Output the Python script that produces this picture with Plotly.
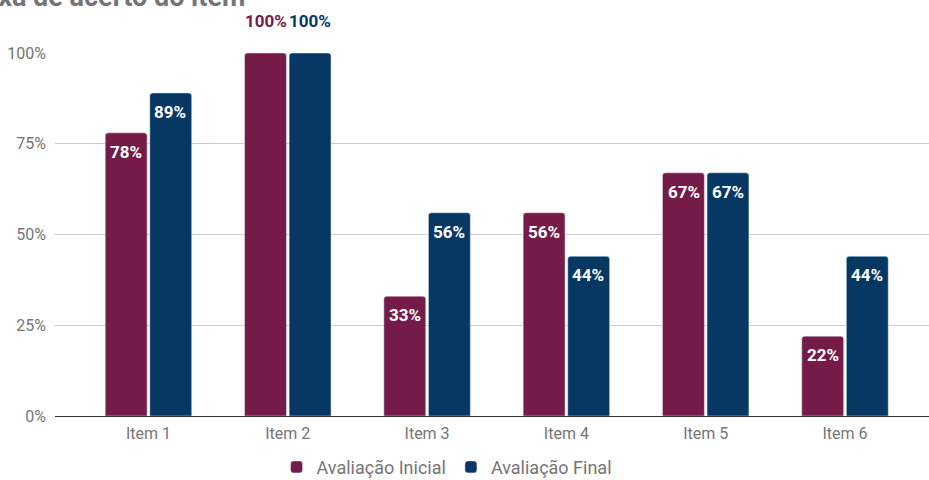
import plotly.graph_objects as go

# Taxa de acerto por item, avaliação inicial vs. final (%)
items = ["Item 1", "Item 2", "Item 3", "Item 4", "Item 5", "Item 6"]
inicial = [78, 100, 33, 56, 67, 22]
final = [89, 100, 56, 44, 67, 44]
y_ticks = [0, 25, 50, 75, 100]
y_tick_text = [f"{t}%" for t in y_ticks]

series = [
    ("Avaliação Inicial", inicial, "#741b47"),
    ("Avaliação Final", final, "#073763"),
]

label_font = dict(family="Roboto", size=17, weight="bold")

fig = go.Figure()
annotations = []
for k, (name, vals, color) in enumerate(series):
    fig.add_trace(go.Bar(
        name=name, x=items, y=vals,
        marker=dict(color=color, cornerradius=3),
        hoverinfo="skip", cliponaxis=False,
    ))
    # value labels: inside near the bar top, or above the bar when it is full height
    offset = -22 if k == 0 else 22
    for i, v in enumerate(vals):
        full = v >= 100
        annotations.append(dict(
            x=i, y=v, xref="x", yref="y", text=f"{v}%", showarrow=False,
            xshift=offset, yshift=(32 if full else -19), yanchor="middle",
            font=dict(label_font, color=(color if full else "white")),
        ))

annotations.append(dict(
    x=0, y=1.0, xref="paper", yref="paper", yanchor="bottom", xanchor="right",
    xshift=192, yshift=38, text="<b>Taxa de acerto do item</b>", showarrow=False,
    font=dict(family="Roboto", size=27, color="#757575"),
))

fig.update_layout(
    width=929, height=480,
    margin=dict(l=55, r=0, t=53, b=64, autoexpand=False),
    paper_bgcolor="white", plot_bgcolor="white",
    barmode="group", bargap=0.36, bargroupgap=0.06,
    font=dict(family="Roboto", color="#757575"),
    annotations=annotations,
    showlegend=True,
    legend=dict(
        orientation="h", x=0.448, xanchor="center", y=-0.141, yanchor="middle",
        font=dict(family="Roboto", size=18, color="#757575"),
    ),
    xaxis=dict(
        range=[-0.671, 5.603], showgrid=False, showline=False, ticks="",
        tickfont=dict(family="Roboto", size=16, color="#757575"),
        ticklabelstandoff=6, fixedrange=True,
    ),
    yaxis=dict(
        range=[0, 100], tickvals=y_ticks, ticktext=y_tick_text,
        showgrid=True, gridcolor="#cccccc", gridwidth=1,
        zeroline=True, zerolinecolor="#333333", zerolinewidth=1,
        tickfont=dict(family="Roboto", size=16, color="#757575"),
        ticklabelstandoff=8, fixedrange=True,
    ),
)

fig.write_html("out.html", config={"displayModeBar": False})
